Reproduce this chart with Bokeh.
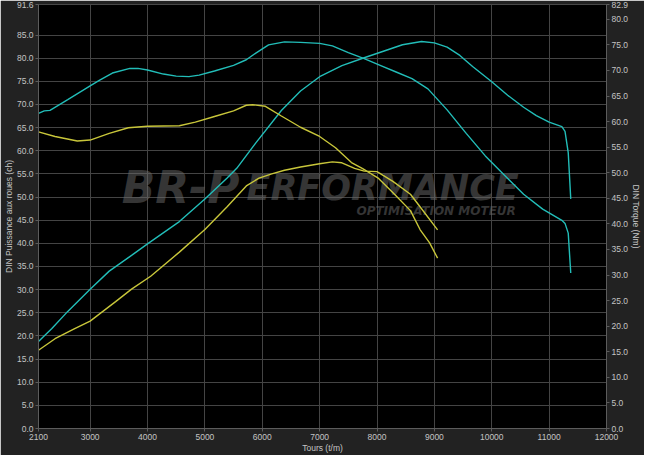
from bokeh.plotting import figure
from bokeh.models import Range1d, LinearAxis, FixedTicker, PrintfTickFormatter, Label
from bokeh.embed import file_html
from bokeh.resources import INLINE

# ---- data ----
x_ticks = [2100, 3000, 4000, 5000, 6000, 7000, 8000, 9000, 10000, 11000, 12000]
left_ticks = [0, 5, 10, 15, 20, 25, 30, 35, 40, 45, 50, 55, 60, 65, 70, 75, 80, 85, 91.6]
right_ticks = [0, 5, 10, 15, 20, 25, 30, 35, 40, 45, 50, 55, 60, 65, 70, 75, 80, 82.9]

# cyan power (ch, left axis)
rpm_cyan_power = [2100, 2333, 2610, 3000, 3333, 3722, 4000, 4555, 5000, 5388, 5555, 5888,
                  6333, 6667, 7000, 7388, 7777, 8111, 8444, 8777, 9000, 9222, 9444, 9666,
                  10000, 10277, 10555, 10777, 11000, 11222, 11277, 11333, 11377]
cyan_power = [18.8, 21.6, 25.3, 30.1, 34.0, 37.4, 39.9, 44.7, 49.6, 54.1, 56.2, 61.7,
              68.7, 72.9, 76.0, 78.4, 80.1, 81.5, 82.9, 83.6, 83.3, 82.4, 80.6, 78.2,
              74.9, 72.0, 69.4, 67.6, 66.2, 65.2, 64.2, 59.6, 49.6]

# cyan torque (Nm, right axis)
rpm_cyan_torque = [2100, 2200, 2300, 2610, 3000, 3167, 3388, 3693, 3833, 4000, 4277, 4500,
                   4722, 4900, 5167, 5500, 5722, 5888, 6110, 6388, 6667, 7000, 7222, 7500,
                   7777, 8055, 8333, 8610, 8888, 9222, 9555, 9888, 10222, 10555, 10888,
                   11222, 11277, 11333, 11377]
cyan_torque = [61.6, 62.1, 62.2, 64.3, 67.0, 68.1, 69.5, 70.4, 70.4, 70.1, 69.3, 68.9,
               68.8, 69.1, 69.9, 71.0, 72.1, 73.4, 75.0, 75.6, 75.5, 75.3, 74.8, 73.5,
               72.3, 71.0, 69.7, 68.4, 66.4, 62.3, 57.7, 53.3, 49.5, 45.8, 42.9,
               40.7, 40.1, 38.2, 30.4]

# yellow power (ch, left axis)
rpm_yellow_power = [2100, 2388, 2722, 3000, 3444, 3722, 4055, 4555, 5000, 5388, 5722, 5944,
                    6166, 6388, 6667, 7000, 7222, 7388, 7610, 7777, 8000, 8277, 8583, 8750, 9056]
yellow_power = [16.9, 19.4, 21.5, 23.2, 27.4, 30.1, 32.9, 38.1, 43.0, 47.9, 52.4, 54.1,
                55.0, 55.8, 56.5, 57.2, 57.6, 57.4, 56.2, 55.6, 55.5, 53.4, 50.6, 47.9, 42.9]

# yellow torque (Nm, right axis)
rpm_yellow_torque = [2100, 2388, 2777, 3000, 3333, 3666, 4000, 4555, 4833, 5167, 5500, 5722,
                     5833, 6055, 6333, 6667, 7000, 7277, 7555, 7750, 8028, 8305, 8583, 8750,
                     8917, 9056]
yellow_torque = [58.0, 57.1, 56.2, 56.4, 57.7, 58.8, 59.1, 59.2, 59.9, 61.0, 62.1, 63.2,
                 63.3, 63.0, 61.1, 58.9, 57.1, 54.9, 52.0, 50.8, 48.9, 45.8, 42.6, 38.9,
                 36.3, 33.3]

CYAN = "#22bdb8"
YELLOW = "#c8c63a"
BG = "#222222"
GRID = "#444444"
TXT = "#c4c4c4"
AXL = "#5c5c5c"
FONT = "Liberation Sans"

p = figure(width=644, height=455, output_backend="svg", toolbar_location=None,
           x_range=Range1d(2100, 12000), y_range=Range1d(0, 91.6),
           background_fill_color="black", border_fill_color=BG,
           min_border_left=2, min_border_right=2, min_border_top=4, min_border_bottom=2)
p.outline_line_color = None
p.extra_y_ranges = {"torque": Range1d(0, 82.9)}
p.add_layout(LinearAxis(y_range_name="torque"), "right")

p.xaxis.ticker = FixedTicker(ticks=x_ticks)
p.xaxis.formatter = PrintfTickFormatter(format="%d")
p.yaxis[0].ticker = FixedTicker(ticks=left_ticks)
p.yaxis[1].ticker = FixedTicker(ticks=right_ticks)
for ax in p.yaxis:
    ax.formatter = PrintfTickFormatter(format="%.1f")

p.xaxis.axis_label = "Tours (t/m)"
p.yaxis[0].axis_label = "DIN Puissance aux roues (ch)"
p.yaxis[1].axis_label = "DIN Torque (Nm)"

for ax in list(p.xaxis) + list(p.yaxis):
    ax.axis_line_color = AXL
    ax.major_tick_line_color = AXL
    ax.minor_tick_line_color = None
    ax.major_tick_in = 0
    ax.major_tick_out = 3
    ax.major_label_text_color = TXT
    ax.major_label_text_font = FONT
    ax.major_label_text_font_size = "8.5px"
    ax.major_label_standoff = 2
    ax.axis_label_text_color = TXT
    ax.axis_label_text_font = FONT
    ax.axis_label_text_font_size = "8.5px"
    ax.axis_label_text_font_style = "normal"
    ax.axis_label_standoff = 0

p.xgrid.ticker = FixedTicker(ticks=x_ticks)
p.ygrid.ticker = FixedTicker(ticks=left_ticks)
p.grid.grid_line_color = GRID
p.grid.grid_line_width = 1

# watermark
wm = dict(x_units="data", y_units="data", text_font="DejaVu Sans",
          text_font_style="bold italic", text_color="#6a6a6a", text_alpha=0.5,
          text_baseline="alphabetic", level="underlay")
p.add_layout(Label(x=3550, y=52.0, text="BR-P", text_font_size="44px", **wm))
p.add_layout(Label(x=5725, y=52.0, text="ERFORMANCE", text_font_size="35px", **wm))
p.add_layout(Label(x=10420, y=46.9, text="OPTIMISATION MOTEUR", text_font_size="12px",
                   text_align="right", **wm))

p.line(rpm_cyan_power, cyan_power, line_color=CYAN, line_width=1.4)
p.line(rpm_yellow_power, yellow_power, line_color=YELLOW, line_width=1.4)
p.line(rpm_cyan_torque, cyan_torque, line_color=CYAN, line_width=1.4, y_range_name="torque")
p.line(rpm_yellow_torque, yellow_torque, line_color=YELLOW, line_width=1.4, y_range_name="torque")

open("out.html", "w").write(file_html(p, INLINE))
